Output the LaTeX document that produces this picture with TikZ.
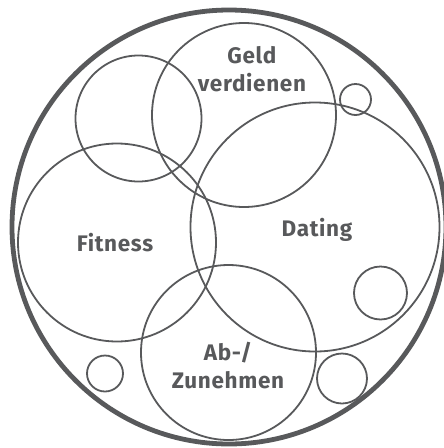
\documentclass[tikz,border=0pt]{standalone}
\usepackage{fontspec}
\setmainfont{Fira Sans}[LetterSpace=3, BoldFont={Fira Sans Bold}]
\usepackage{xcolor}
\usepackage{tikz}
\usetikzlibrary{shapes,positioning}
\definecolor{ink}{RGB}{88,89,91}

\begin{document}
\begin{tikzpicture}[
    x=1pt, y=-1pt,
    ring/.style={circle, draw=ink, line width=1.8pt, inner sep=0pt, outer sep=0pt},
    frame/.style={circle, draw=ink, line width=4.8pt, inner sep=0pt, outer sep=0pt},
    label/.style={text=ink, font=\fontsize{22.5}{28}\selectfont\bfseries, align=center, inner sep=0pt}
]
\useasboundingbox (0,0) rectangle (444,448);

% outer boundary
\node[frame, minimum size=434pt] (world) at (229,227) {};

% big areas
\node[ring, minimum size=126pt] (misc) at (138.5,118.5) {};
\node[ring, minimum size=184pt] (geld) at (244,115) {};
\node[ring, minimum size=249pt] (dating) at (315,227) {};
\node[ring, minimum size=198pt] (fitness) at (117,242.5) {};
\node[ring, minimum size=175pt] (weight) at (228.5,352.5) {};

% small areas
\node[ring, minimum size=31pt] (dotA) at (355.5,99.5) {};
\node[ring, minimum size=53pt] (dotB) at (380.5,293) {};
\node[ring, minimum size=36pt] (dotC) at (105,373.5) {};
\node[ring, minimum size=50pt] (dotD) at (342,378.5) {};

% labels
\node[label] (geldtxt) at (252,69) {Geld\\verdienen};
\node[label] (datingtxt) at (317,230) {Dating};
\node[label] (fitnesstxt) at (115,243) {Fitness};
\node[label] (weighttxt) at (228,366) {Ab-/\\Zunehmen};
\end{tikzpicture}
\end{document}
